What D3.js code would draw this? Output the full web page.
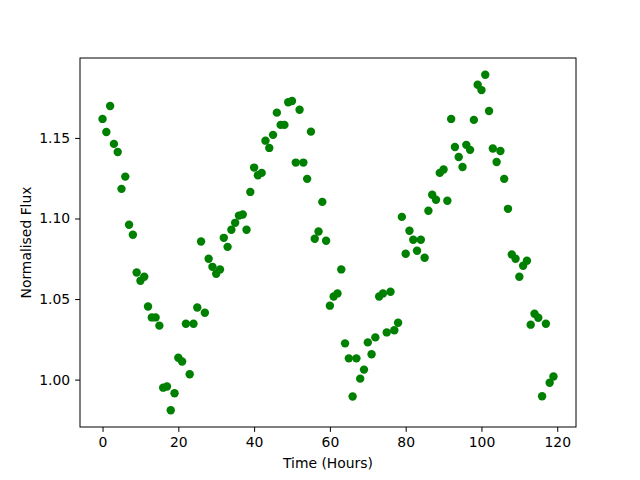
<!DOCTYPE html>
<html>
<head>
<meta charset="utf-8">
<script src="https://cdn.jsdelivr.net/npm/d3@7"></script>
<style>
  body { margin: 0; background: #fff; }
  svg { display: block; }
  text { font-family: "DejaVu Sans", sans-serif; }
</style>
</head>
<body>
<svg id="chart" width="640" height="480"></svg>
<script>
const hours = d3.range(0, 120);
const flux = [
  1.1618, 1.1537, 1.1698, 1.1463, 1.1413, 1.1184, 1.1260, 1.0961, 1.0899, 1.0665,
  1.0614, 1.0638, 1.0454, 1.0386, 1.0386, 1.0335, 0.9950, 0.9957, 0.9810, 0.9915,
  1.0136, 1.0112, 1.0347, 1.0033, 1.0347, 1.0448, 1.0857, 1.0415, 1.0750, 1.0700,
  1.0657, 1.0684, 1.0880, 1.0824, 1.0930, 1.0973, 1.1018, 1.1025, 1.0930, 1.1165,
  1.1316, 1.1268, 1.1283, 1.1483, 1.1438, 1.1519, 1.1657, 1.1581, 1.1581, 1.1721,
  1.1729, 1.1347, 1.1675, 1.1347, 1.1246, 1.1539, 1.0874, 1.0919, 1.1103, 1.0862,
  1.0459, 1.0516, 1.0535, 1.0684, 1.0225, 1.0132, 0.9895, 1.0132, 1.0006, 1.0062,
  1.0231, 1.0157, 1.0262, 1.0516, 1.0535, 1.0293, 1.0545, 1.0306, 1.0353, 1.1010,
  1.0781, 1.0924, 1.0868, 1.0800, 1.0868, 1.0756, 1.1048, 1.1147, 1.1116, 1.1283,
  1.1304, 1.1110, 1.1618, 1.1444, 1.1382, 1.1320, 1.1457, 1.1426, 1.1612, 1.1830,
  1.1797, 1.1892, 1.1667, 1.1434, 1.1351, 1.1419, 1.1246, 1.1060, 1.0777, 1.0750,
  1.0638, 1.0707, 1.0738, 1.0341, 1.0409, 1.0384, 0.9897, 1.0347, 0.9981, 1.0019
];
const xTicks = [0, 20, 40, 60, 80, 100, 120];
const yTicks = [1.00, 1.05, 1.10, 1.15];
const xLabel = "Time (Hours)";
const yLabel = "Normalised Flux";

const svg = d3.select("#chart");
const L = 80, R = 576, T = 58, B = 427;

const xExt = d3.extent(hours), xPad = (xExt[1] - xExt[0]) * 0.05;
const yExt = d3.extent(flux), yPad = (yExt[1] - yExt[0]) * 0.05;
const x = d3.scaleLinear().domain([xExt[0] - xPad, xExt[1] + xPad]).range([L, R]);
const y = d3.scaleLinear().domain([yExt[0] - yPad, yExt[1] + yPad]).range([B, T]);

const pts = hours.map((h, i) => ({h, f: flux[i]}));
svg.append("g").selectAll("circle").data(pts).join("circle")
  .attr("cx", d => x(d.h)).attr("cy", d => y(d.f)).attr("r", 4.2)
  .attr("fill", "#008000");

const xAxis = svg.append("g").attr("transform", `translate(0,${B})`)
  .call(d3.axisBottom(x).tickValues(xTicks).tickSize(4.9).tickPadding(4.9).tickFormat(d3.format("d")));
const yAxis = svg.append("g").attr("transform", `translate(${L},0)`)
  .call(d3.axisLeft(y).tickValues(yTicks).tickSize(4.9).tickPadding(4.9).tickFormat(d3.format(".2f")));
[xAxis, yAxis].forEach(a => {
  a.select(".domain").remove();
  a.selectAll("text").attr("font-family", "DejaVu Sans").attr("font-size", 13.9).attr("fill", "#000");
  a.selectAll("line").attr("stroke", "#000").attr("stroke-width", 1);
});

svg.append("rect").attr("x", L).attr("y", T).attr("width", R - L).attr("height", B - T)
  .attr("fill", "none").attr("stroke", "#000").attr("stroke-width", 1);

svg.append("text").attr("x", (L + R) / 2).attr("y", 468).attr("text-anchor", "middle")
  .attr("font-size", 13.9).text(xLabel);
svg.append("text").attr("transform", `translate(31,${(T + B) / 2}) rotate(-90)`)
  .attr("text-anchor", "middle").attr("font-size", 13.9).text(yLabel);
</script>
</body>
</html>
